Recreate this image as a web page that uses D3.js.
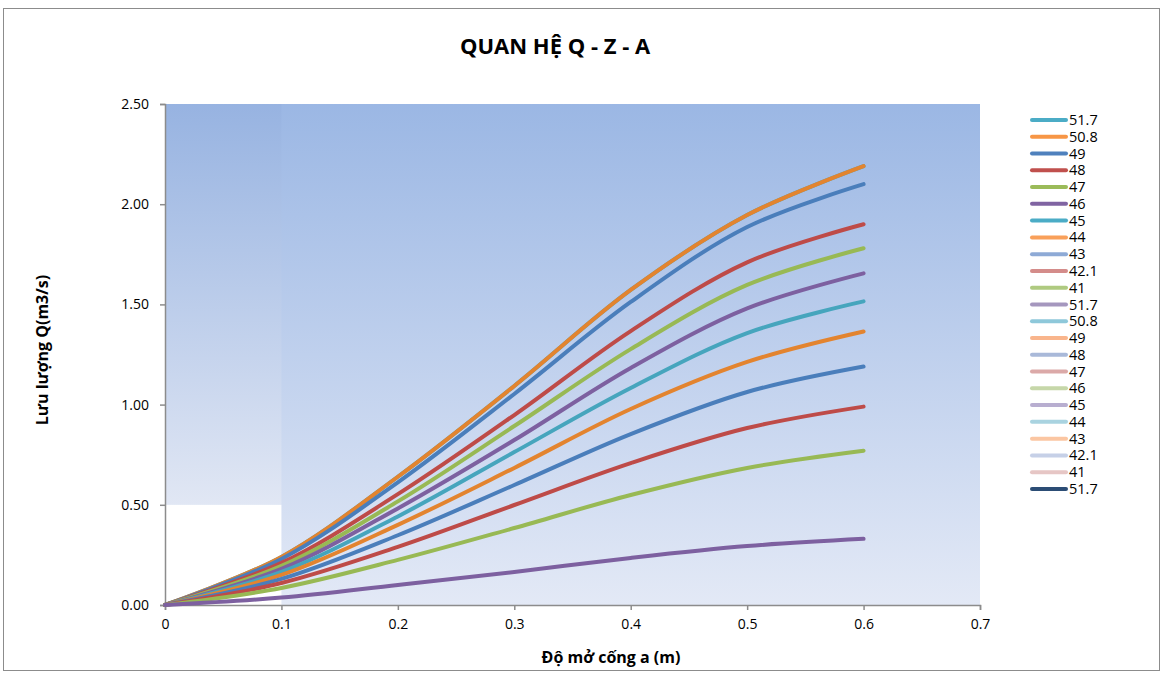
<!DOCTYPE html>
<html>
<head>
<meta charset="utf-8">
<script src="https://cdn.jsdelivr.net/npm/d3@7"></script>
<style>
  body { margin: 0; background: #fff; }
  svg { display: block; font-family: "Open Sans", "DejaVu Sans", sans-serif; }
</style>
</head>
<body>
<svg id="chart" width="1164" height="675"></svg>
<script>
// opening a (m)
const openings = [0, 0.1, 0.2, 0.3, 0.4, 0.5, 0.6];

// discharge Q (m3/s) for each water level Z
const q517 = [0, 0.24, 0.64, 1.093, 1.572, 1.946, 2.19];
const q508 = [0, 0.24, 0.64, 1.093, 1.572, 1.946, 2.19];
const q49 = [0, 0.23, 0.612, 1.053, 1.512, 1.886, 2.10];
const q48 = [0, 0.21, 0.553, 0.948, 1.367, 1.71, 1.90];
const q47 = [0, 0.195, 0.517, 0.893, 1.277, 1.597, 1.78];
const q46 = [0, 0.18, 0.482, 0.823, 1.183, 1.48, 1.655];
const q45 = [0, 0.165, 0.442, 0.763, 1.083, 1.357, 1.515];
const q44 = [0, 0.15, 0.4, 0.684, 0.978, 1.213, 1.365];
const q43 = [0, 0.13, 0.348, 0.599, 0.853, 1.063, 1.19];
const q421 = [0, 0.11, 0.29, 0.499, 0.708, 0.883, 0.99];
const q41 = [0, 0.085, 0.225, 0.384, 0.549, 0.684, 0.77];
const q517b = [0, 0.037, 0.1, 0.165, 0.235, 0.294, 0.33];

const lineSeries = [q517, q508, q49, q48, q47, q46, q45, q44, q43, q421, q41, q517b];
const lineColors = ['#46a5bd', '#e3842f', '#4a7ebb', '#be4b48', '#98b954', '#7d60a0',
                    '#46a5bd', '#e3842f', '#4a7ebb', '#be4b48', '#98b954', '#7d60a0'];

// legend entries
const legendNames = ['51.7', '50.8', '49', '48', '47', '46', '45', '44', '43', '42.1', '41',
                     '51.7', '50.8', '49', '48', '47', '46', '45', '44', '43', '42.1', '41', '51.7'];
const legendColors = ['#4bacc6', '#f79646', '#4f81bd', '#c0504d', '#9bbb59', '#8064a2',
                      '#4bacc6', '#f9a05a', '#8eaad6', '#d48c8a', '#afca80',
                      '#a597be', '#8ec8da', '#f9b58c', '#a9b9d9', '#dba9a8', '#c6d7a9',
                      '#b8aed0', '#a9d3e0', '#fbc6a2', '#c6d0e7', '#e6c6c5', '#2c4d75'];

const yTicks = [0, 0.5, 1, 1.5, 2, 2.5];
const xTicks = [0, 0.1, 0.2, 0.3, 0.4, 0.5, 0.6, 0.7];

const svg = d3.select('#chart');
const margin = { left: 165, top: 104, right: 980, bottom: 605 };

const x = d3.scaleLinear().domain([0, 0.7]).range([margin.left, margin.right]);
const y = d3.scaleLinear().domain([0, 2.5]).range([margin.bottom, margin.top]);

// outer frame
svg.append('rect')
  .attr('x', 3.5).attr('y', 8.5)
  .attr('width', 1156).attr('height', 662)
  .attr('fill', '#fff')
  .attr('stroke', '#8c8c8c');

const defs = svg.append('defs');
function grad(id, top, bottom) {
  const g = defs.append('linearGradient').attr('id', id)
    .attr('x1', 0).attr('y1', 0).attr('x2', 0).attr('y2', 1);
  g.append('stop').attr('offset', '0%').attr('stop-color', top);
  g.append('stop').attr('offset', '100%').attr('stop-color', bottom);
}
grad('bgMain', '#9bb7e4', '#e3e9f6');
grad('bgLeft', '#97b3e1', '#e1e7f4');

// plot area background
svg.append('rect')
  .attr('x', x(0)).attr('y', y(2.5))
  .attr('width', x(0.7) - x(0)).attr('height', y(0) - y(2.5))
  .attr('fill', 'url(#bgMain)');
svg.append('rect')
  .attr('x', x(0)).attr('y', y(2.5))
  .attr('width', x(0.1) - x(0)).attr('height', y(0.5) - y(2.5))
  .attr('fill', 'url(#bgLeft)');
svg.append('rect')
  .attr('x', x(0)).attr('y', y(0.5))
  .attr('width', x(0.1) - x(0)).attr('height', y(0) - y(0.5))
  .attr('fill', '#fff');

// axes
const yAxis = svg.append('g')
  .attr('transform', `translate(${x(0)},0)`)
  .call(d3.axisLeft(y).tickValues(yTicks).tickFormat(d3.format('.2f')).tickSize(5).tickPadding(11));
const xAxis = svg.append('g')
  .attr('transform', `translate(0,${y(0)})`)
  .call(d3.axisBottom(x).tickValues(xTicks).tickFormat(d => d === 0 ? '0' : d3.format('.1f')(d)).tickSize(5).tickPadding(9));

[yAxis, xAxis].forEach(a => {
  a.select('.domain').attr('stroke', '#8c8c8c').attr('stroke-width', 1.5);
  a.selectAll('.tick line').attr('stroke', '#8c8c8c').attr('stroke-width', 1.5);
  a.selectAll('.tick text')
    .attr('fill', '#000')
    .style('font-size', '14px')
    .style('font-family', '"Open Sans", sans-serif');
});

// curves
const line = d3.line()
  .x((d, i) => x(openings[i]))
  .y(d => y(d))
  .curve(d3.curveCatmullRom.alpha(0.5));

svg.append('g')
  .selectAll('path')
  .data(lineSeries)
  .join('path')
  .attr('d', d => line(d))
  .attr('fill', 'none')
  .attr('stroke', (d, i) => lineColors[i])
  .attr('stroke-width', 4)
  .attr('stroke-linecap', 'round')
  .attr('stroke-linejoin', 'round');

// title
svg.append('text')
  .attr('x', 555).attr('y', 54)
  .attr('text-anchor', 'middle')
  .style('font-size', '22px')
  .style('font-weight', 'bold')
  .text('QUAN HỆ Q - Z - A');

// axis titles
svg.append('text')
  .attr('transform', 'translate(48,350) rotate(-90)')
  .attr('text-anchor', 'middle')
  .style('font-size', '16px')
  .style('font-weight', 'bold')
  .text('Lưu lượng Q(m3/s)');

svg.append('text')
  .attr('x', 611).attr('y', 663)
  .attr('text-anchor', 'middle')
  .style('font-size', '16px')
  .style('font-weight', 'bold')
  .text('Độ mở cống a (m)');

// legend
const legend = svg.append('g')
  .selectAll('g')
  .data(legendNames)
  .join('g')
  .attr('transform', (d, i) => `translate(1032,${120 + i * 16.77})`);

legend.append('line')
  .attr('x1', 0).attr('x2', 34)
  .attr('stroke', (d, i) => legendColors[i])
  .attr('stroke-width', 4)
  .attr('stroke-linecap', 'round');

legend.append('text')
  .attr('x', 37).attr('dy', '0.35em')
  .style('font-size', '14.5px')
  .text(d => d);
</script>
</body>
</html>
